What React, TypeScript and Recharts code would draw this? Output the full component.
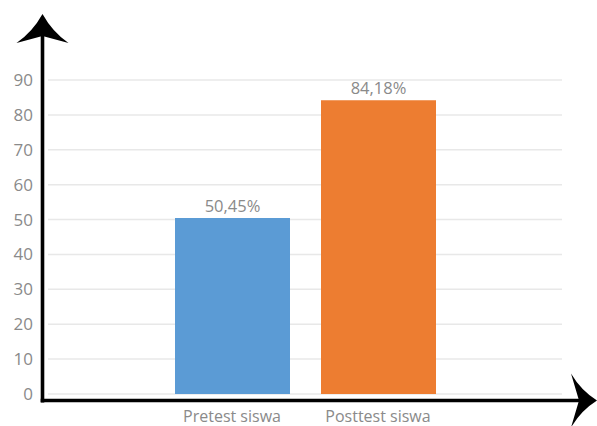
import React from 'react';
import { BarChart, Bar, XAxis, YAxis, CartesianGrid, Cell, LabelList, Customized } from 'recharts';

const categories = ['Pretest siswa', 'Posttest siswa'];
const scores = [50.45, 84.18];
const barColors = ['#5B9BD5', '#ED7D31'];
const yTicks = [0, 10, 20, 30, 40, 50, 60, 70, 80, 90];

const data = categories.map((name, i) => ({ name, value: scores[i] }));

const W = 597;
const H = 426;
const FONT = '"Open Sans", "DejaVu Sans", sans-serif';
const GRAY = '#8a8a8a';

// black axis lines with arrow heads, drawn over the plot edges
function Arrows() {
  const ax = 42.5;
  const ay = 400.5;
  return (
    <g>
      <line x1={ax} y1={30} x2={ax} y2={402.5} stroke="#000" strokeWidth={3.6} />
      <line x1={40.7} y1={ay} x2={582} y2={ay} stroke="#000" strokeWidth={3.6} />
      <path
        d={`M${ax},14 Q${ax - 10},32 ${ax - 26},43 L${ax},36 L${ax + 26},43 Q${ax + 10},32 ${ax},14 Z`}
        fill="#000"
      />
      <path
        d={`M597,${ay} Q581,${ay - 10} 571,${ay - 27} L579,${ay} L571,${ay + 27} Q581,${ay + 10} 597,${ay} Z`}
        fill="#000"
      />
    </g>
  );
}

export default function App() {
  return (
    <div style={{ position: 'absolute', left: 0, top: 0, width: W, height: H, background: '#fff' }}>
      <BarChart
        width={W}
        height={H}
        data={data}
        margin={{ top: 80, right: 35, bottom: 0, left: 0 }}
        barSize={115}
      >
        <CartesianGrid vertical={false} stroke="#e8e8e8" strokeWidth={1.5} />
        <XAxis
          dataKey="name"
          height={32}
          padding={{ left: 111, right: 111 }}
          axisLine={false}
          tickLine={false}
          tickSize={0}
          tickMargin={17}
          tick={{ fill: GRAY, fontSize: 16, fontFamily: FONT }}
        />
        <YAxis
          width={48}
          domain={[0, 90]}
          ticks={yTicks}
          axisLine={false}
          tickLine={false}
          tickSize={0}
          tickMargin={15}
          tick={{ fill: GRAY, fontSize: 17, fontFamily: FONT }}
        />
        <Bar dataKey="value" isAnimationActive={false}>
          {data.map((d, i) => (
            <Cell key={d.name} fill={barColors[i]} />
          ))}
          <LabelList
            dataKey="value"
            position="top"
            offset={6}
            formatter={(v: number) => `${v.toFixed(2).replace('.', ',')}%`}
            style={{ fill: GRAY, fontSize: 16.5, fontFamily: FONT }}
          />
        </Bar>
        <Customized component={<Arrows />} />
      </BarChart>
    </div>
  );
}
